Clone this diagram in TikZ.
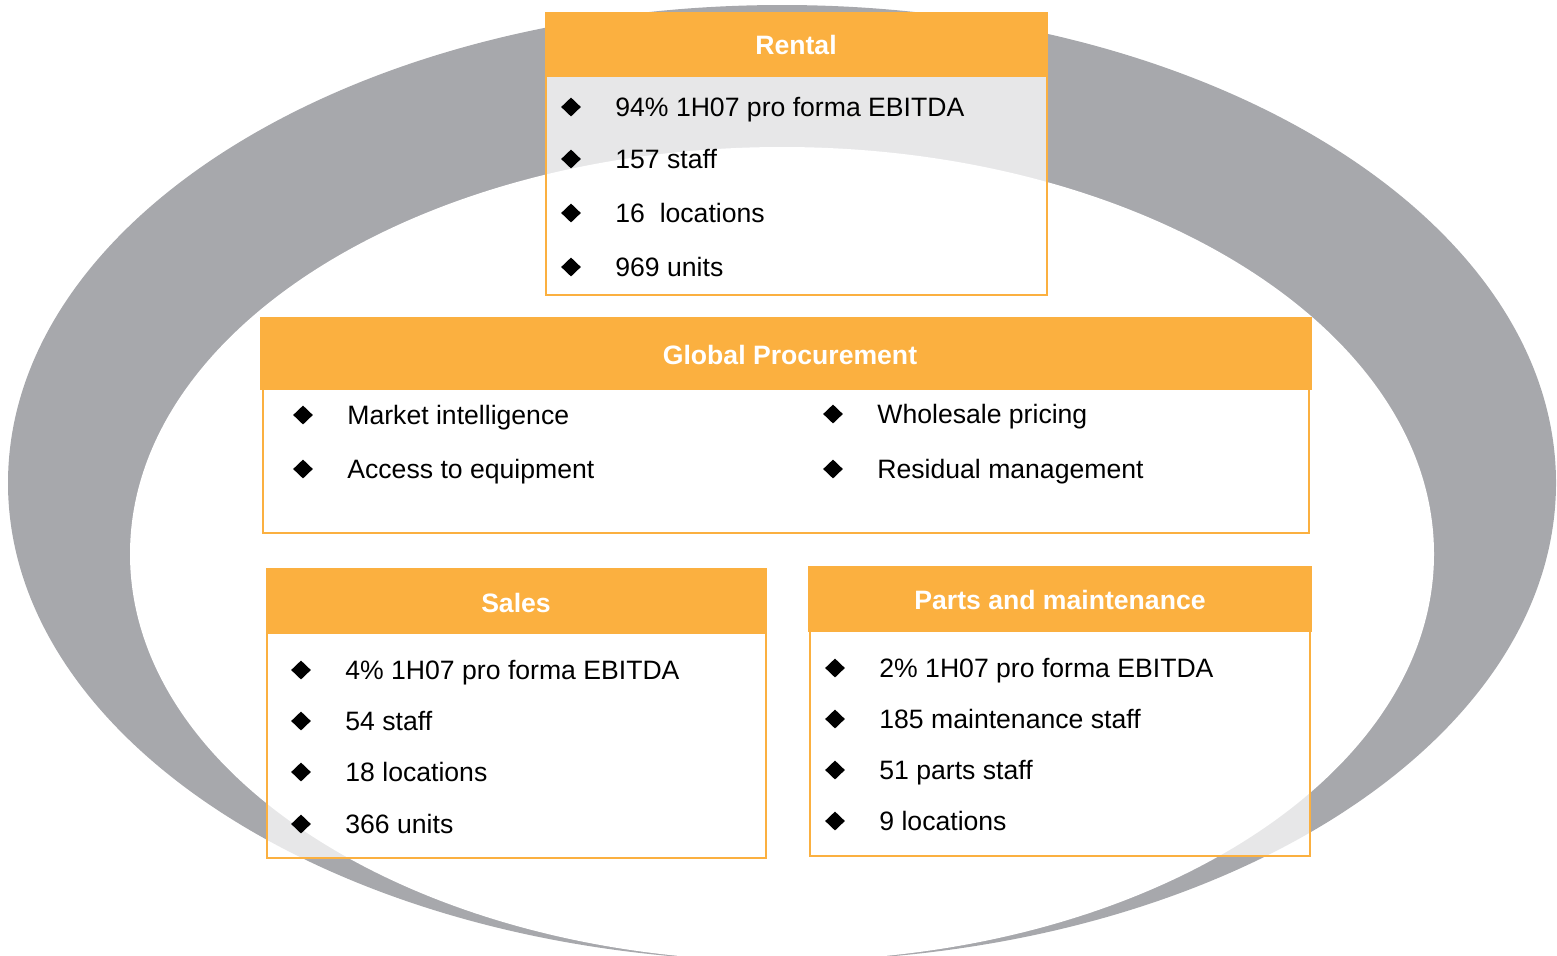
\documentclass[tikz,border=0pt]{standalone}
\usepackage{fontspec}
\setmainfont{Liberation Sans}
\usetikzlibrary{shapes.geometric}
\definecolor{ringgray}{HTML}{A7A8AC}
\definecolor{boxorange}{HTML}{FBB040}
\tikzset{
  bodybox/.style={draw=boxorange, line width=1.1pt, fill=white, fill opacity=0.73},
  hdrtext/.style={text=white, font=\fontsize{13.3}{15}\selectfont\bfseries, inner sep=0pt},
  itemtext/.style={anchor=base west, inner sep=0pt, font=\fontsize{13.3}{15}\selectfont},
  bullet/.style={diamond, fill=black, inner sep=0pt, minimum width=10pt, minimum height=9.6pt},
}
\newcommand{\itm}[4]{%
  \node[bullet] (#1b) at (#2,#3) {};
  \node[itemtext] (#1t) at ([xshift=22pt,yshift=-4.7pt]#1b.center) {#4};}
\begin{document}
\begin{tikzpicture}[x=0.5pt,y=-0.5pt]
\useasboundingbox (0,0) rectangle (1557,955);
\begin{scope}
\clip (0,0) rectangle (1557,955);
\fill[ringgray] (782,483) ellipse [x radius=774, y radius=478];
\fill[white] (782,554) ellipse [x radius=652, y radius=407];
\end{scope}
% Rental
\path[bodybox] (546,76) rectangle (1047,295);
\fill[boxorange] (545,12) rectangle (1048,77);
\node[hdrtext] (rentalH) at (796,45) {Rental};
\itm{r1}{571}{107}{94\% 1H07 pro forma EBITDA}
\itm{r2}{571}{159}{157 staff}
\itm{r3}{571}{213}{16\ \ locations}
\itm{r4}{571}{267}{969 units}
% Global procurement
\path[bodybox] (263,389) rectangle (1309,533);
\fill[boxorange] (260,317) rectangle (1312,390);
\node[hdrtext] (gpH) at (790,355) {Global Procurement};
\itm{g1}{303}{415}{Market intelligence}
\itm{g2}{303}{469}{Access to equipment}
\itm{g3}{833}{414}{Wholesale pricing}
\itm{g4}{833}{469}{Residual management}
% Sales
\path[bodybox] (267,633) rectangle (766,858);
\fill[boxorange] (266,568) rectangle (767,634);
\node[hdrtext] (salesH) at (516,603) {Sales};
\itm{s1}{301}{670}{4\% 1H07 pro forma EBITDA}
\itm{s2}{301}{721}{54 staff}
\itm{s3}{301}{772}{18 locations}
\itm{s4}{301}{824}{366 units}
% Parts and maintenance
\path[bodybox] (810,631) rectangle (1310,856);
\fill[boxorange] (808,566) rectangle (1312,632);
\node[hdrtext] (partsH) at (1060,600) {Parts and maintenance};
\itm{p1}{835}{668}{2\% 1H07 pro forma EBITDA}
\itm{p2}{835}{719}{185 maintenance staff}
\itm{p3}{835}{770}{51 parts staff}
\itm{p4}{835}{821}{9 locations}
\end{tikzpicture}
\end{document}
